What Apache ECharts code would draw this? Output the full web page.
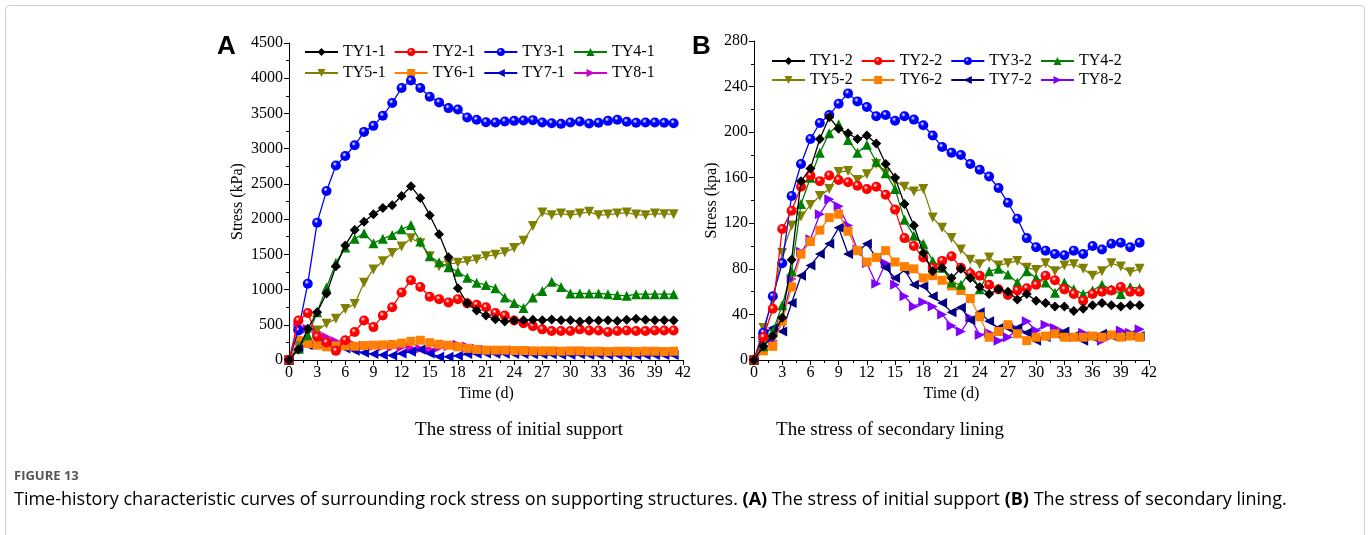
<!DOCTYPE html>
<html><head><meta charset="utf-8">
<script src="https://cdn.jsdelivr.net/npm/echarts@6/dist/echarts.min.js"></script>
<style>html,body{margin:0;padding:0;background:#fff}#c{width:1370px;height:535px}</style>
</head><body><div id="c"></div>
<script>
const days = [0,1,2,3,4,5,6,7,8,9,10,11,12,13,14,15,16,17,18,19,20,21,22,23,24,25,26,27,28,29,30,31,32,33,34,35,36,37,38,39,40,41];
const namesA = ['TY1-1','TY2-1','TY3-1','TY4-1','TY5-1','TY6-1','TY7-1','TY8-1'];
const namesB = ['TY1-2','TY2-2','TY3-2','TY4-2','TY5-2','TY6-2','TY7-2','TY8-2'];

const ty1_1 = [0,150,444,678,944,1332,1626,1846,1963,2070,2159,2196,2327,2467,2299,2056,1785,1458,1019,804,701,631,580,545,560,565,570,565,575,565,565,545,560,560,565,555,570,585,570,565,565,560];
const ty2_1 = [0,561,668,330,250,130,280,397,560,467,631,748,958,1131,1037,897,864,818,864,804,785,748,668,631,561,523,481,435,411,411,411,435,420,420,397,411,420,411,411,420,420,420];
const ty3_1 = [0,420,1083,1950,2400,2762,2895,3048,3238,3324,3467,3648,3862,3967,3862,3738,3657,3576,3557,3443,3410,3376,3371,3386,3395,3400,3405,3371,3362,3352,3371,3386,3357,3367,3395,3410,3381,3367,3371,3371,3367,3362];
const ty4_1 = [0,160,350,678,1028,1379,1598,1720,1799,1659,1720,1776,1855,1916,1682,1472,1388,1318,1252,1168,1098,1066,1019,888,808,738,888,981,1112,1037,944,944,944,944,934,921,911,934,934,934,934,934];
const ty5_1 = [0,200,380,420,514,584,724,794,1098,1285,1402,1519,1612,1729,1659,1472,1332,1364,1379,1402,1425,1472,1495,1528,1589,1692,1902,2093,2056,2079,2056,2079,2103,2056,2065,2079,2093,2065,2056,2079,2070,2070];
const ty6_1 = [0,280,234,210,187,200,200,195,205,210,215,220,240,265,280,245,224,210,187,165,150,140,140,140,135,135,130,130,130,125,130,130,125,125,120,125,125,120,125,125,120,125];
const ty7_1 = [0,164,210,234,220,187,164,131,103,84,70,65,93,117,150,93,47,47,60,84,90,93,90,90,85,85,80,80,80,75,75,80,75,75,70,75,70,70,70,70,70,70];
const ty8_1 = [0,480,444,397,327,266,234,215,205,195,190,185,180,170,160,150,175,195,215,190,165,145,135,125,135,125,120,115,115,120,115,115,110,110,110,105,110,110,105,105,105,105];

const ty1_2 = [0,12,21,37,88,157,168,194,213,203,199,194,197,190,172,160,137,118,94,78,81,72,80,72,64,58,62,60,53,58,52,50,47,47,43,45,48,50,48,47,48,48];
const ty2_2 = [0,20,45,115,131,152,162,157,162,158,156,153,150,152,145,132,107,100,90,81,87,91,81,76,74,66,62,57,61,63,66,74,70,62,58,52,58,60,61,64,60,60];
const ty3_2 = [0,24,56,85,144,172,194,208,215,225,234,227,222,214,215,210,214,211,206,197,187,182,180,172,167,161,151,138,124,107,99,96,93,92,96,93,100,97,102,103,99,103];
const ty4_2 = [0,12,25,48,78,137,160,182,199,207,193,182,189,174,164,150,123,109,102,87,81,68,66,78,62,78,80,75,68,78,72,68,59,68,62,58,61,66,62,58,64,63];
const ty5_2 = [0,28,52,94,118,126,136,144,150,165,166,158,163,172,164,157,152,148,150,125,116,107,97,88,84,90,83,85,87,81,79,85,78,83,84,80,74,78,85,82,77,80];
const ty6_2 = [0,8,12,34,64,93,104,114,125,128,113,96,86,90,96,86,82,80,72,74,70,65,61,54,38,20,25,31,23,17,20,21,23,20,20,20,21,20,22,20,21,20];
const ty7_2 = [0,23,28,25,50,74,83,93,102,116,93,95,102,90,81,72,79,66,65,56,50,42,46,35,42,34,28,28,28,24,17,20,23,25,21,17,20,23,21,21,22,21];
const ty8_2 = [0,20,17,34,71,95,106,128,141,135,118,97,85,67,85,66,56,47,51,47,40,30,25,37,22,24,17,20,27,34,26,31,28,24,20,24,21,17,21,26,24,27];

const valuesA = [ty1_1,ty2_1,ty3_1,ty4_1,ty5_1,ty6_1,ty7_1,ty8_1];
const valuesB = [ty1_2,ty2_2,ty3_2,ty4_2,ty5_2,ty6_2,ty7_2,ty8_2];

const colorsA = ['#000000','#ff0000','#0000ff','#008000','#808000','#ff8000','#0000cc','#cc00cc'];
const colorsB = ['#000000','#ff0000','#0000ff','#008000','#808000','#ff8000','#000080','#8000ff'];
const symbols = ['diamond','circle','circle','triangle','triangle','rect','triangle','triangle'];
const rotates = [0,0,0,0,180,0,90,-90];
const sizes = [10,10,10,10,10,9,10,10];

const serif = '"Liberation Serif","Times New Roman",serif';

function fillFor(sym, col){
  if(sym==='circle') return {type:'radial',x:0.4,y:0.35,r:0.65,colorStops:[{offset:0,color:'#ffffff'},{offset:0.35,color:col},{offset:1,color:col}]};
  return col;
}

function mkSeries(names, values, colors, gi){
  return names.map((n,i)=>({
    name:n, type:'line', xAxisIndex:gi, yAxisIndex:gi,
    data: days.map((d,k)=>[d, values[i][k]]),
    symbol: symbols[i], symbolRotate: rotates[i], symbolSize: sizes[i],
    showAllSymbol:true,
    lineStyle:{color:colors[i], width:1.3},
    itemStyle:{color: fillFor(symbols[i], colors[i]), borderWidth:0},
    z: 10-i
  }));
}

function xAx(gi){
  return {type:'value', gridIndex:gi, min:0, max:42, interval:3,
    name:'Time (d)', nameLocation:'middle', nameGap:25,
    nameTextStyle:{fontFamily:serif, fontSize:16, color:'#000'},
    axisLine:{lineStyle:{color:'#000', width:1}},
    axisTick:{inside:false, length:5, lineStyle:{color:'#000'}},
    minorTick:{show:true, splitNumber:2, length:3, lineStyle:{color:'#000'}},
    axisLabel:{fontFamily:serif, fontSize:16, color:'#000', margin:5, formatter:v=>String(v)},
    splitLine:{show:false}};
}
function yAx(gi, max, interval, name, gap){
  return {type:'value', gridIndex:gi, min:0, max:max, interval:interval,
    name:name, nameLocation:'middle', nameGap:gap,
    nameTextStyle:{fontFamily:serif, fontSize:16, color:'#000'},
    axisLine:{show:true, lineStyle:{color:'#000', width:1}},
    axisTick:{show:true, inside:false, length:5, lineStyle:{color:'#000'}},
    minorTick:{show:true, splitNumber:2, length:3, lineStyle:{color:'#000'}},
    axisLabel:{fontFamily:serif, fontSize:16, color:'#000', margin:6, formatter:v=>String(v)},
    splitLine:{show:false}};
}
function legend(names, left, top){
  return {data:names, left:left, top:top, orient:'horizontal', itemWidth:33, itemHeight:10, itemGap:8,
    textStyle:{fontFamily:serif, fontSize:16, color:'#000'}};
}

const chart = echarts.init(document.getElementById('c'), null, {renderer:'canvas'});
chart.setOption({
  animation:false,
  backgroundColor:'#fff',
  grid:[{left:289, top:43, width:394, height:317},{left:754, top:41, width:395, height:319}],
  xAxis:[xAx(0), xAx(1)],
  yAxis:[yAx(0,4500,500,'Stress (kPa)',43), yAx(1,280,40,'Stress (kpa)',33)],
  legend:[legend(namesA.slice(0,4),299,39), legend(namesA.slice(4),299,60),
          legend(namesB.slice(0,4),766,48), legend(namesB.slice(4),766,67)],
  series:[...mkSeries(namesA, valuesA, colorsA, 0), ...mkSeries(namesB, valuesB, colorsB, 1)],
  graphic:[
    {type:'rect', silent:true, shape:{x:5.5,y:5.5,width:1359,height:560,r:4}, style:{fill:'none', stroke:'#cfcfcf', lineWidth:1}},
    {type:'text', left:217, top:34, style:{text:'A', font:'bold 26px "Liberation Sans", Arial, sans-serif', fill:'#000'}},
    {type:'text', left:692, top:34, style:{text:'B', font:'bold 26px "Liberation Sans", Arial, sans-serif', fill:'#000'}},
    {type:'text', x:519, y:430, style:{text:'The stress of initial support', font:'19px '+serif, fill:'#000', textAlign:'center', textVerticalAlign:'middle'}},
    {type:'text', x:890, y:430, style:{text:'The stress of secondary lining', font:'19px '+serif, fill:'#000', textAlign:'center', textVerticalAlign:'middle'}},
    {type:'text', x:14, y:476, style:{text:'FIGURE 13', font:'bold 13px "Open Sans", sans-serif', fill:'#555', textVerticalAlign:'middle'}},
    {type:'text', x:14, y:500, style:{
      text:'{n|Time-history characteristic curves of surrounding rock stress on supporting structures. }{b|(A)}{n| The stress of initial support }{b|(B)}{n| The stress of secondary lining.}',
      textVerticalAlign:'middle',
      rich:{n:{fontFamily:'"Open Sans", sans-serif', fontSize:18, color:'#6a6a6a'}, b:{fontFamily:'"Open Sans", sans-serif', fontSize:18, fontWeight:'bold', color:'#555'}}
    }}
  ]
});
</script></body></html>
